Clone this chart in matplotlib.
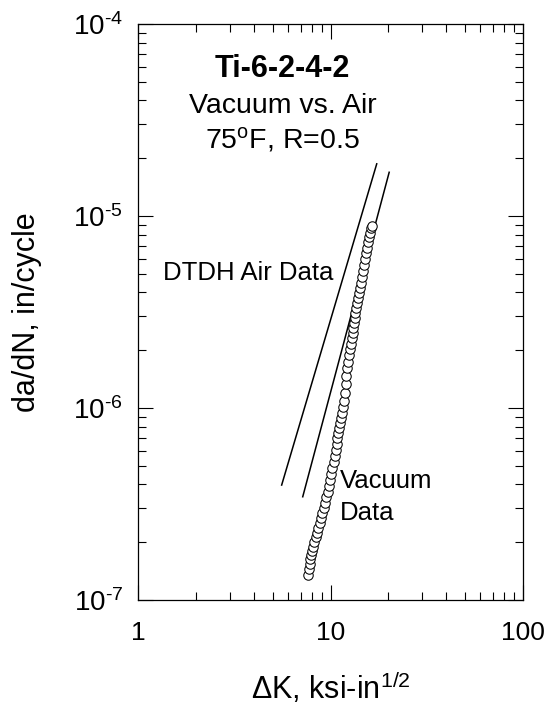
import numpy as np
import matplotlib
matplotlib.use("Agg")
import matplotlib.pyplot as plt
from matplotlib.ticker import LogLocator, NullFormatter

plt.rcParams['font.family'] = ['Liberation Sans', 'DejaVu Sans']
plt.rcParams['mathtext.fontset'] = 'custom'
plt.rcParams['mathtext.rm'] = 'Liberation Sans'
plt.rcParams['mathtext.it'] = 'Liberation Sans:italic'
plt.rcParams['mathtext.bf'] = 'Liberation Sans:bold'
plt.rcParams['mathtext.default'] = 'regular'
plt.rcParams['axes.unicode_minus'] = False

# vacuum data (dK in ksi-in^1/2, da/dN in in/cycle)
vac_dk = [7.66, 7.73, 7.80, 7.85, 7.91, 8.04, 8.14, 8.24, 8.38, 8.51,
          8.64, 8.79, 8.92, 9.07, 9.22, 9.36, 9.51, 9.67, 9.82, 9.94,
          10.06, 10.22, 10.39, 10.52, 10.64, 10.77, 10.86, 10.99, 11.12, 11.26,
          11.39, 11.53, 11.67, 11.77, 11.91, 12.00, 12.10, 12.24, 12.35, 12.50,
          12.65, 12.74, 12.89, 13.05, 13.16, 13.32, 13.41, 13.48, 13.64, 13.80,
          13.97, 14.14, 14.31, 14.48, 14.66, 14.83, 15.01, 15.12, 15.30, 15.49,
          15.67, 15.86, 16.05, 16.24, 16.38]
vac_dadn = [1.35e-7, 1.445e-7, 1.54e-7, 1.63e-7, 1.72e-7, 1.81e-7, 1.90e-7, 2.00e-7, 2.12e-7, 2.24e-7,
            2.37e-7, 2.51e-7, 2.67e-7, 2.83e-7, 3.01e-7, 3.21e-7, 3.43e-7, 3.67e-7, 3.94e-7, 4.22e-7,
            4.53e-7, 4.87e-7, 5.23e-7, 5.62e-7, 6.04e-7, 6.49e-7, 6.95e-7, 7.38e-7, 7.84e-7, 8.32e-7,
            8.84e-7, 9.38e-7, 1.01e-6, 1.09e-6, 1.20e-6, 1.33e-6, 1.47e-6, 1.61e-6, 1.74e-6, 1.89e-6,
            2.02e-6, 2.15e-6, 2.31e-6, 2.45e-6, 2.60e-6, 2.76e-6, 2.93e-6, 3.11e-6, 3.31e-6, 3.51e-6,
            3.73e-6, 3.96e-6, 4.20e-6, 4.49e-6, 4.83e-6, 5.17e-6, 5.56e-6, 5.95e-6, 6.39e-6, 6.84e-6,
            7.30e-6, 7.74e-6, 8.18e-6, 8.63e-6, 8.90e-6]

# DTDH air data band (two straight lines)
air_dk = [5.57, 17.4]
air_dadn = [3.97e-7, 1.87e-5]
air2_dk = [7.17, 20.2]
air2_dadn = [3.45e-7, 1.69e-5]

fig = plt.figure(figsize=(5.53, 7.15), dpi=100)
ax = fig.add_axes([0.2501, 0.1608, 0.6951, 0.8056])

ax.plot(air_dk, air_dadn, color='black', lw=1.1)
ax.plot(air2_dk, air2_dadn, color='black', lw=1.1)
ax.plot(vac_dk, vac_dadn, 'o', ms=6.8, mfc='white', mec='black', mew=0.75)

ax.set_xscale('log')
ax.set_yscale('log')
ax.set_xlim(1, 100)
ax.set_ylim(1e-7, 1e-4)

for a in (ax.xaxis, ax.yaxis):
    a.set_major_locator(LogLocator(base=10, numticks=10))
    a.set_minor_locator(LogLocator(base=10, subs=np.arange(2, 10), numticks=10))
    a.set_minor_formatter(NullFormatter())
ax.xaxis.set_major_formatter(plt.FuncFormatter(lambda v, p: '%g' % v))
ax.yaxis.set_major_formatter(plt.FuncFormatter(
    lambda v, p: r'$10^{\text{-%d}}$' % round(-np.log10(v))))

ax.tick_params(which='both', direction='in', top=True, right=True, width=0.8, color='black')
ax.tick_params(which='major', length=11)
ax.tick_params(which='minor', length=5.5)
ax.tick_params(axis='x', which='major', labelsize=19, pad=15)
ax.tick_params(axis='y', which='major', labelsize=20, pad=11)
for s in ax.spines.values():
    s.set_linewidth(0.9)

ax.set_xlabel(r'$\Delta$K, ksi-in$^{1/2}$', fontsize=22)
ax.xaxis.set_label_coords(0.5, -0.122)
ax.set_ylabel('da/dN, in/cycle', fontsize=22)
ax.yaxis.set_label_coords(-0.25, 0.5)

ax.text(0.375, 0.9085, 'Ti-6-2-4-2', transform=ax.transAxes, ha='center', va='baseline',
        fontsize=22, fontweight='bold')
ax.text(0.375, 0.845, 'Vacuum vs. Air', transform=ax.transAxes, ha='center', va='baseline',
        fontsize=20.5)
ax.text(0.375, 0.7842, r'75$^{o}$F, R=0.5', transform=ax.transAxes, ha='center', va='baseline',
        fontsize=20.5)
ax.text(0.065, 0.5556, 'DTDH Air Data', transform=ax.transAxes, ha='left', va='baseline',
        fontsize=18.5)
ax.text(0.5247, 0.1944, 'Vacuum', transform=ax.transAxes, ha='left', va='baseline', fontsize=18.5)
ax.text(0.5247, 0.1389, 'Data', transform=ax.transAxes, ha='left', va='baseline', fontsize=18.5)

fig.savefig('out.png', dpi=100)
